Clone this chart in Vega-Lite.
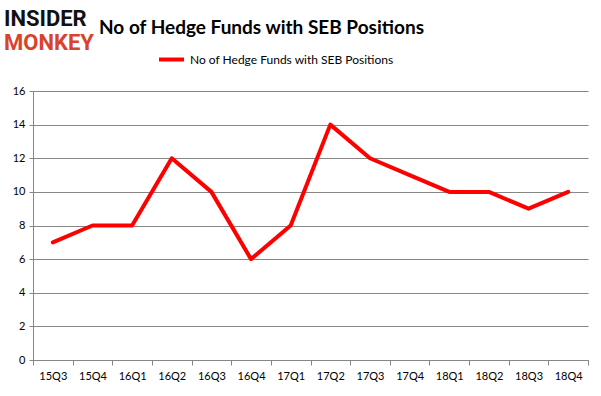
{
  "$schema": "https://vega.github.io/schema/vega-lite/v6.json",
  "autosize": "none",
  "width": 555,
  "height": 269,
  "padding": {"left": 33, "top": 91, "right": 13, "bottom": 36},
  "background": "white",
  "title": {
    "text": "INSIDER",
    "subtitle": "MONKEY",
    "anchor": "start",
    "frame": "group",
    "font": "Roboto",
    "fontSize": 22,
    "fontWeight": "bold",
    "color": "#111111",
    "subtitleFont": "Roboto",
    "subtitleFontSize": 22,
    "subtitleFontWeight": "bold",
    "subtitleColor": "#d9432b",
    "subtitlePadding": 2,
    "dx": -29,
    "offset": -37
  },
  "config": {
    "view": {"stroke": null},
    "font": "Lato"
  },
  "data": {
    "values": [
      {"quarter": "15Q3", "funds": 7},
      {"quarter": "15Q4", "funds": 8},
      {"quarter": "16Q1", "funds": 8},
      {"quarter": "16Q2", "funds": 12},
      {"quarter": "16Q3", "funds": 10},
      {"quarter": "16Q4", "funds": 6},
      {"quarter": "17Q1", "funds": 8},
      {"quarter": "17Q2", "funds": 14},
      {"quarter": "17Q3", "funds": 12},
      {"quarter": "17Q4", "funds": 11},
      {"quarter": "18Q1", "funds": 10},
      {"quarter": "18Q2", "funds": 10},
      {"quarter": "18Q3", "funds": 9},
      {"quarter": "18Q4", "funds": 10}
    ]
  },
  "mark": {"type": "line", "strokeWidth": 4, "strokeCap": "round", "strokeJoin": "round"},
  "encoding": {
    "x": {
      "field": "quarter",
      "type": "ordinal",
      "sort": null,
      "bandPosition": 0.5,
      "scale": {"type": "band", "paddingInner": 0, "paddingOuter": 0},
      "title": "No of Hedge Funds with SEB Positions",
      "axis": {
        "titleX": 228,
        "titleY": -327,
        "titleAlign": "center",
        "titleAnchor": null,
        "titleBaseline": "alphabetic",
        "titleFont": "Lato",
        "titleFontSize": 19,
        "titleFontWeight": "bold",
        "titleColor": "#000000",
        "labelAngle": 0,
        "tickBand": "extent",
        "grid": false,
        "tickSize": 5,
        "domainColor": "#868686",
        "tickColor": "#868686",
        "labelFont": "Lato",
        "labelFontSize": 11,
        "labelColor": "#000000",
        "labelPadding": 5
      }
    },
    "y": {
      "field": "funds",
      "type": "quantitative",
      "scale": {"domain": [0, 16]},
      "axis": {
        "title": null,
        "values": [0, 2, 4, 6, 8, 10, 12, 14, 16],
        "grid": true,
        "gridColor": "#868686",
        "tickSize": 4,
        "domainColor": "#868686",
        "tickColor": "#868686",
        "labelFont": "Lato",
        "labelFontSize": 11,
        "labelColor": "#000000",
        "labelPadding": 4
      }
    },
    "color": {
      "datum": "No of Hedge Funds with SEB Positions",
      "scale": {"range": ["#ff0000"]},
      "legend": {
        "title": null,
        "orient": "none",
        "legendX": 124,
        "legendY": -46,
        "padding": 0,
        "symbolType": "stroke",
        "symbolStrokeWidth": 4,
        "symbolSize": 625,
        "labelFont": "Lato",
        "labelFontSize": 12,
        "labelLimit": 400,
        "labelColor": "#000000"
      }
    }
  }
}
